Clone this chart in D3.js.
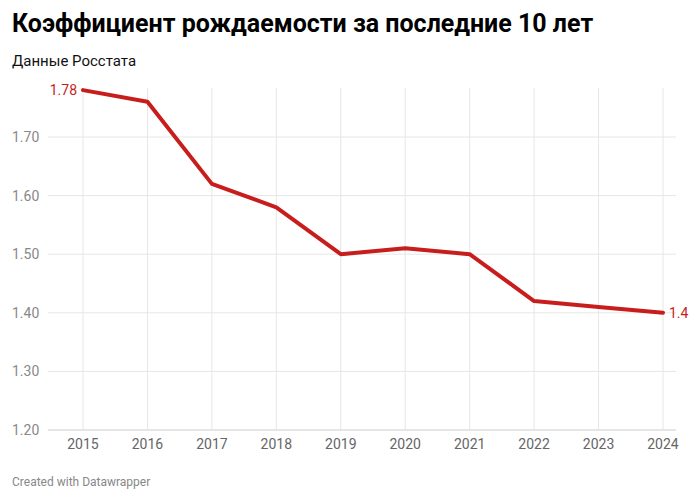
<!DOCTYPE html><html><head><meta charset="utf-8">
<script src="https://cdn.jsdelivr.net/npm/d3@7"></script>
<style>body{margin:0;background:#fff;font-family:Roboto,sans-serif}</style></head><body>
<svg id="c" width="700" height="501"></svg>
<script>
const years=[2015,2016,2017,2018,2019,2020,2021,2022,2023,2024];
const values=[1.78,1.76,1.62,1.58,1.50,1.51,1.50,1.42,1.41,1.40];
const yTicks=[1.2,1.3,1.4,1.5,1.6,1.7];
const svg=d3.select("#c");
const x=d3.scalePoint().domain(years).range([83,663]);
const y=d3.scaleLinear().domain([1.2,1.8]).range([430,78.4]);
svg.append("text").attr("x",12).attr("y",32).attr("font-size",25).attr("font-weight",700).attr("fill","#000").text("Коэффициент рождаемости за последние 10 лет");
svg.append("text").attr("x",12).attr("y",66).attr("font-size",15).attr("fill","#111").text("Данные Росстата");
const g=svg.append("g");
yTicks.forEach(t=>{
 g.append("line").attr("x1",48).attr("x2",676).attr("y1",y(t)).attr("y2",y(t)).attr("stroke",t==1.2?"#ccc":"#e6e6e6");
 g.append("text").attr("x",12).attr("y",y(t)+5).attr("font-size",14).attr("fill","#888").text(t.toFixed(2));
});
years.forEach(yr=>{
 g.append("line").attr("x1",x(yr)).attr("x2",x(yr)).attr("y1",88).attr("y2",430).attr("stroke","#e6e6e6");
 g.append("text").attr("x",x(yr)).attr("y",449).attr("text-anchor","middle").attr("font-size",14).attr("fill","#666").text(yr);
});
const line=d3.line().x((d,i)=>x(years[i])).y(d=>y(d));
g.append("path").datum(values).attr("d",line).attr("fill","none").attr("stroke","#c71e1d").attr("stroke-width",4).attr("stroke-linejoin","round").attr("stroke-linecap","round");
g.append("text").attr("x",x(years[0])-6).attr("y",y(values[0])+5).attr("text-anchor","end").attr("font-size",14).attr("fill","#c71e1d").text(values[0]);
g.append("text").attr("x",x(years[9])+6).attr("y",y(values[9])+5).attr("font-size",14).attr("fill","#c71e1d").text(values[9]);
svg.append("text").attr("x",12).attr("y",486).attr("font-size",12).attr("fill","#888").text("Created with Datawrapper");
</script></body></html>
